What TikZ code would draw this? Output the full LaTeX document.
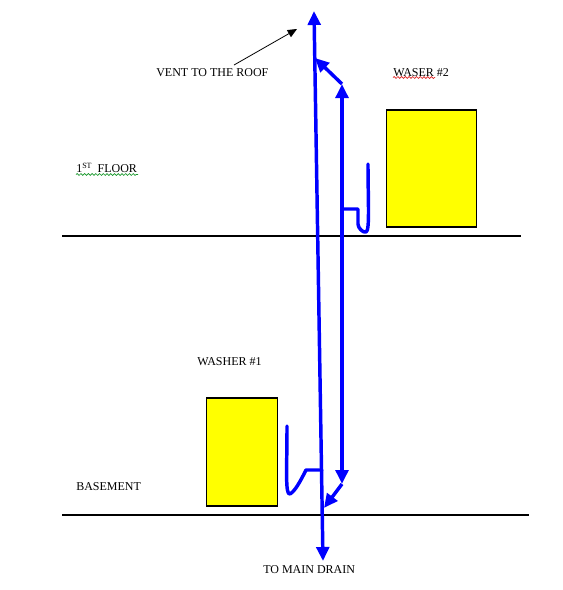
\documentclass[tikz,border=0pt]{standalone}
\usepackage{fontspec}
\setmainfont{Liberation Serif}
\usetikzlibrary{calc,positioning,arrows.meta,decorations.pathmorphing}
\definecolor{pipeblue}{RGB}{0,0,255}
\definecolor{washeryellow}{RGB}{255,255,0}
\definecolor{spellred}{RGB}{220,30,30}
\definecolor{spellgreen}{RGB}{20,150,40}
\tikzset{
  pipe/.style={line width=2.6pt, pipeblue, line cap=round},
  flowpipe/.style={pipe, line cap=butt, -{Triangle[length=10.5pt,width=9.5pt]}},
  bothpipe/.style={pipe, line cap=butt, {Triangle[length=10.5pt,width=9.5pt]}-{Triangle[length=10.5pt,width=9.5pt]}},
  floorline/.style={line width=1.4pt, black},
  washer/.style={draw=black, fill=washeryellow, line width=0.8pt, inner sep=0pt},
  plabel/.style={font=\fontsize{9}{10}\selectfont, inner sep=0pt, anchor=base west},
  spell/.style={line width=0.5pt, decorate, decoration={snake,amplitude=0.7pt,segment length=2.8pt}},
}
\begin{document}
\begin{tikzpicture}[x=0.75pt,y=-0.75pt]
  \useasboundingbox (0,0) rectangle (563,590);
  % ====== floors ======
  \coordinate (floorAw) at (62,236);  \coordinate (floorAe) at (521,236);
  \coordinate (floorBw) at (62,515);  \coordinate (floorBe) at (529,515);
  \draw[floorline] (floorAw) -- (floorAe);
  \draw[floorline] (floorBw) -- (floorBe);
  % ====== washers ======
  \node[washer, minimum width=67pt, minimum height=87.75pt] (washerB) at (431.5,168.5) {};
  \node[washer, minimum width=53.25pt, minimum height=81pt] (washerA) at (242.2,452) {};
  % ====== labels ======
  \node[plabel] (lblvent) at (156,76) {VENT TO THE ROOF};
  \node[plabel] (lblwb) at (393,76) {WASER \#2};
  \node[plabel] (lblfirst) at (76,172.5) {1\raisebox{0.35em}{\fontsize{6}{6}\selectfont ST}\hspace{0.5em}FLOOR};
  \node[plabel] (lblwa) at (197,365) {WASHER \#1};
  \node[plabel] (lblbase) at (76,490) {BASEMENT};
  \node[plabel] (lbldrain) at (263,573) {TO MAIN DRAIN};
  % ====== spell marks ======
  \draw[spell, spellred] (393,77.5) -- (435,77.5);
  \draw[spell, spellgreen] (76,174.5) -- (138,174.5);
  % ====== vent arrow ======
  \coordinate (ventA) at (234,65);  \coordinate (ventB) at (297,29);
  \draw[-{Triangle[length=7pt,width=6pt]}, line width=0.6pt] (ventA) -- (ventB);
  % ====== pipes ======
  \coordinate (stackT) at (314,11);    \coordinate (stackB) at (323,561);
  \coordinate (branchT) at (342,84);   \coordinate (branchB) at (342,484);
  \coordinate (joinT) at (315,58);     \coordinate (joinB) at (324,508);
  \draw[bothpipe] (stackT) -- (stackB);
  \draw[bothpipe] (branchT) -- (branchB);
  \draw[flowpipe] (branchT) -- (joinT);
  \draw[flowpipe] (branchB) -- (joinB);
  % ====== traps ======
  \coordinate (trapBa) at (342,209);  \coordinate (trapBb) at (358,209);
  \coordinate (trapBc) at (368,164);
  \draw[pipe, line join=round] (trapBa) -- (trapBb) -- (358,224)
    .. controls (358,228) and (363,233) .. (366,232)
    .. controls (370,231) and (368,200) .. (trapBc);
  \coordinate (trapAa) at (322,470);  \coordinate (trapAb) at (306,470);
  \coordinate (trapAc) at (287,426);
  \draw[pipe, line join=round] (trapAa) -- (trapAb)
    .. controls (300,482) and (295,491) .. (290,494)
    .. controls (285,495) and (287,470) .. (trapAc);
\end{tikzpicture}
\end{document}
